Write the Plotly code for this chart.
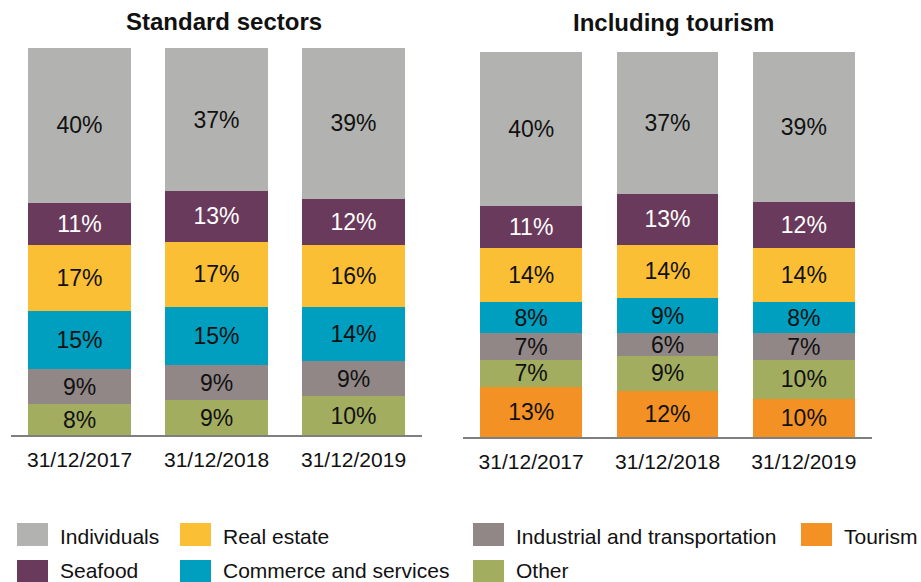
import plotly.graph_objects as go

# ---------------- data ----------------
dates = ["31/12/2017", "31/12/2018", "31/12/2019"]

# Standard sectors (bottom -> top)
std_other = [8, 9, 10]
std_industrial = [9, 9, 9]
std_commerce = [15, 15, 14]
std_real_estate = [17, 17, 16]
std_seafood = [11, 13, 12]
std_individuals = [40, 37, 39]

# Including tourism (bottom -> top)
tour_tourism = [13, 12, 10]
tour_other = [7, 9, 10]
tour_industrial = [7, 6, 7]
tour_commerce = [8, 9, 8]
tour_real_estate = [14, 14, 14]
tour_seafood = [11, 13, 12]
tour_individuals = [40, 37, 39]

titles = ["Standard sectors", "Including tourism"]

# ---------------- styles ----------------
FONT = "Arial, Liberation Sans, sans-serif"
colors = {
    "Individuals": "#B2B3B0",
    "Seafood": "#6A3A5C",
    "Real estate": "#FBBF36",
    "Commerce and services": "#009EBF",
    "Industrial and transportation": "#918787",
    "Other": "#A2AD60",
    "Tourism": "#F39125",
}
text_colors = {k: "#111111" for k in colors}
text_colors["Seafood"] = "#FFFFFF"

std_series = [
    ("Other", std_other),
    ("Industrial and transportation", std_industrial),
    ("Commerce and services", std_commerce),
    ("Real estate", std_real_estate),
    ("Seafood", std_seafood),
    ("Individuals", std_individuals),
]
tour_series = [
    ("Tourism", tour_tourism),
    ("Other", tour_other),
    ("Industrial and transportation", tour_industrial),
    ("Commerce and services", tour_commerce),
    ("Real estate", tour_real_estate),
    ("Seafood", tour_seafood),
    ("Individuals", tour_individuals),
]

W, H = 921, 582

fig = go.Figure()

def add_series(series, xa, ya):
    for name, vals in series:
        fig.add_trace(go.Bar(
            x=dates, y=vals, name=name, xaxis=xa, yaxis=ya,
            marker=dict(color=colors[name], line=dict(width=0)),
            texttemplate="%{y}%", textposition="inside",
            insidetextanchor="middle", constraintext="none",
            textangle=0,
            textfont=dict(family=FONT, size=23, color=text_colors[name]),
            showlegend=False, hoverinfo="skip",
        ))

add_series(std_series, "x", "y")
add_series(tour_series, "x2", "y2")

def px_x(p):
    return p / W

def px_y(p):
    return 1 - p / H

axis_common = dict(
    showgrid=False, zeroline=False, ticks="",
    tickfont=dict(family=FONT, size=21, color="#111111"),
    showline=True, linecolor="#7F7F7F", linewidth=1.5,
    range=[-0.5, 2.5], fixedrange=True, ticklabelstandoff=5,
)
yaxis_common = dict(showgrid=False, zeroline=False, showticklabels=False,
                    showline=False, range=[0, 100], fixedrange=True)

fig.update_layout(
    width=W, height=H,
    margin=dict(l=0, r=0, t=0, b=0),
    paper_bgcolor="white", plot_bgcolor="white",
    barmode="stack", bargap=0.255,
    xaxis=dict(domain=[px_x(11), px_x(422)], anchor="y", **axis_common),
    yaxis=dict(domain=[px_y(435), px_y(48)], anchor="x", **yaxis_common),
    xaxis2=dict(domain=[px_x(463), px_x(872)], anchor="y2", **axis_common),
    yaxis2=dict(domain=[px_y(437), px_y(52)], anchor="x2", **yaxis_common),
    showlegend=False,
    font=dict(family=FONT),
)

# titles
for title, cx, cy in [(titles[0], 224, 22), (titles[1], 673, 23)]:
    fig.add_annotation(
        text="<b>%s</b>" % title, x=px_x(cx), y=px_y(cy), xref="paper", yref="paper",
        xanchor="center", yanchor="middle", showarrow=False,
        font=dict(family=FONT, size=24, color="#111111"),
    )

# legend (manual grid, built from series names / colors)
legend_rows = [
    ["Individuals", "Real estate", "Industrial and transportation", "Tourism"],
    ["Seafood", "Commerce and services", "Other"],
]
col_x = [17, 180, 473, 801]
row_y = [523, 560]
text_cy = [536, 570]
sw_w, sw_h = 31, 23
for r, row in enumerate(legend_rows):
    for c, name in enumerate(row):
        x0 = col_x[c]
        y0 = row_y[r]
        fig.add_shape(type="rect", xref="paper", yref="paper",
                      x0=px_x(x0), x1=px_x(x0 + sw_w),
                      y0=px_y(y0 + sw_h), y1=px_y(y0),
                      fillcolor=colors[name], line=dict(width=0))
        fig.add_annotation(
            text=name, x=px_x(x0 + 41), y=px_y(text_cy[r]), xref="paper", yref="paper",
            xanchor="left", yanchor="middle", showarrow=False,
            font=dict(family=FONT, size=21, color="#111111"),
        )

fig.write_html(
    "out.html",
    config={"displayModeBar": False},
    post_script="document.body.style.margin='0';document.body.style.overflow='hidden';",
)
